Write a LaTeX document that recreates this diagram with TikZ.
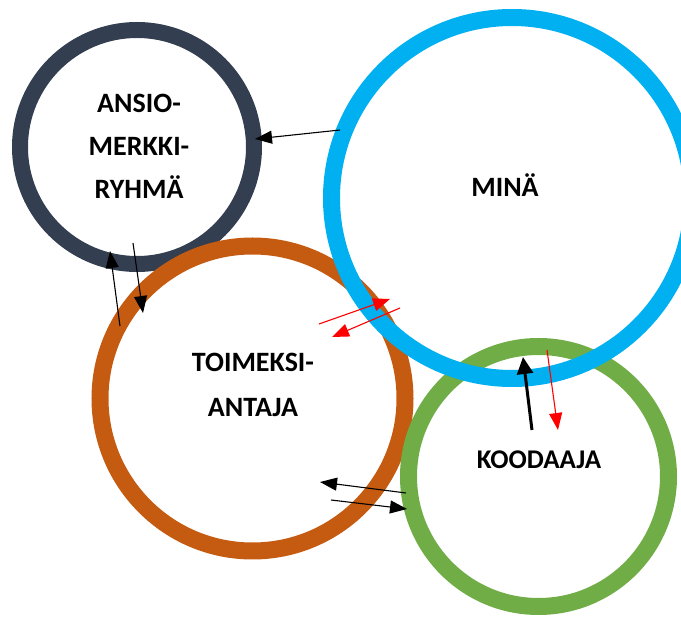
\documentclass[tikz,border=0pt]{standalone}
\usepackage{fontspec}
\setmainfont{Carlito}
\usetikzlibrary{arrows.meta}
\definecolor{ringdark}{HTML}{333F50}
\definecolor{ringblue}{HTML}{00B0F0}
\definecolor{ringorange}{HTML}{C55A11}
\definecolor{ringgreen}{HTML}{70AD47}
\begin{document}
\begin{tikzpicture}[x=1pt,y=-1pt,>={Triangle[length=17pt,width=13pt]},
  ring/.style={circle,line width=17pt,inner sep=0pt},
  nimi/.style={font=\bfseries\fontsize{28}{43}\selectfont,align=center},
  nuoli/.style={->,line width=1.1pt}]
  \useasboundingbox (0,0) rectangle (681,617);
  % rings
  \node[ring,draw=ringdark,line width=16pt,minimum size=234pt] (ansio) at (137,147) {};
  \node[ring,draw=ringorange,minimum size=305pt] (toim) at (252.5,398.5) {};
  \node[ring,draw=ringgreen,minimum size=260pt] (kood) at (538.5,476.5) {};
  \node[ring,draw=ringblue,minimum size=361pt] (mina) at (512,198) {};
  % names
  \node[nimi] (ansio-t) at (139,146) {ANSIO-\\MERKKI-\\RYHMÄ};
  \node[nimi] (mina-t) at (505,185) {MINÄ};
  \node[nimi,font=\bfseries\fontsize{28}{45}\selectfont] (toim-t) at (253,385) {TOIMEKSI-\\ANTAJA};
  \node[nimi,font=\bfseries\fontsize{27}{40}\selectfont] (kood-t) at (539,460) {KOODAAJA};
  % arrow ends
  \coordinate (mina-w) at (340,130);   \coordinate (ansio-e) at (255,139);
  \coordinate (toim-n1) at (120,326);  \coordinate (ansio-s1) at (110,251);
  \coordinate (ansio-s2) at (133,243); \coordinate (toim-n2) at (143,313);
  \coordinate (toim-e1) at (319,324);  \coordinate (mina-sw1) at (390,299);
  \coordinate (mina-sw2) at (400,308); \coordinate (toim-e2) at (332,337);
  \coordinate (kood-n1) at (532,430);  \coordinate (mina-s1) at (523,357);
  \coordinate (mina-s2) at (547,350);  \coordinate (kood-n2) at (558,430);
  \coordinate (kood-w1) at (406,493);  \coordinate (toim-se1) at (320,482);
  \coordinate (toim-se2) at (331,500); \coordinate (kood-w2) at (407,509);
  % arrows
  \draw[nuoli] (mina-w) -- (ansio-e);
  \draw[nuoli] (toim-n1) -- (ansio-s1);
  \draw[nuoli] (ansio-s2) -- (toim-n2);
  \draw[nuoli,red] (toim-e1) -- (mina-sw1);
  \draw[nuoli,red] (mina-sw2) -- (toim-e2);
  \draw[->,line width=3pt,>={Triangle[length=17pt,width=16pt]}] (kood-n1) -- (mina-s1);
  \draw[nuoli,red] (mina-s2) -- (kood-n2);
  \draw[nuoli] (kood-w1) -- (toim-se1);
  \draw[nuoli] (toim-se2) -- (kood-w2);
\end{tikzpicture}
\end{document}
